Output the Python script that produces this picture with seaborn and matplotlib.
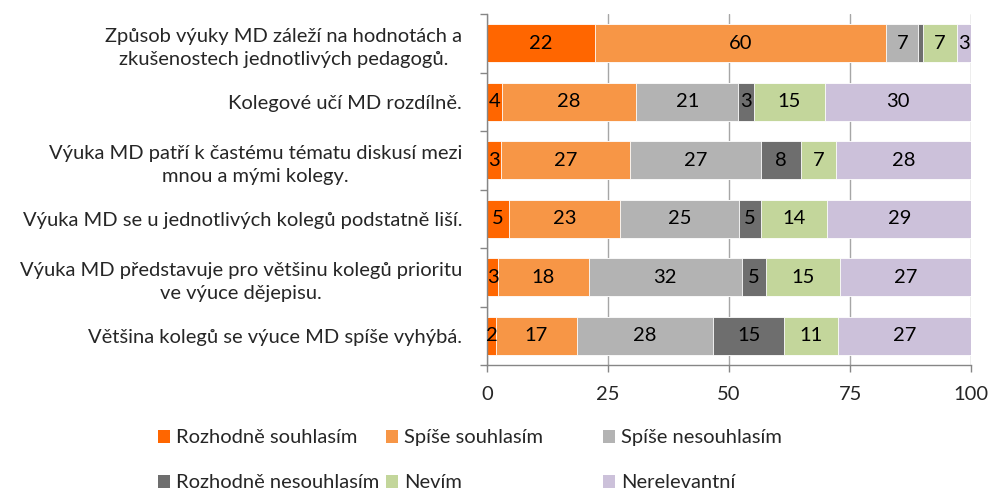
import matplotlib
matplotlib.use("Agg")
import matplotlib.pyplot as plt
import seaborn as sns
import numpy as np
import pandas as pd
from matplotlib.patches import Patch
from matplotlib.ticker import FixedLocator

statements = [
    "Způsob výuky MD záleží na hodnotách a\nzkušenostech jednotlivých pedagogů.",
    "Kolegové učí MD rozdílně.",
    "Výuka MD patří k častému tématu diskusí mezi\nmnou a mými kolegy.",
    "Výuka MD se u jednotlivých kolegů podstatně liší.",
    "Výuka MD představuje pro většinu kolegů prioritu\nve výuce dějepisu.",
    "Většina kolegů se výuce MD spíše vyhýbá.",
]
categories = ["Rozhodně souhlasím", "Spíše souhlasím", "Spíše nesouhlasím",
              "Rozhodně nesouhlasím", "Nevím", "Nerelevantní"]

rozhodne_souhlasim = [22.2, 3.1, 2.8, 4.6, 2.3, 1.9]
spise_souhlasim = [60.3, 27.7, 26.7, 22.8, 18.7, 16.6]
spise_nesouhlasim = [6.6, 21.1, 27.0, 24.6, 31.6, 28.2]
rozhodne_nesouhlasim = [1.0, 3.2, 8.3, 4.5, 5.1, 14.7]
nevim = [6.9, 14.6, 7.3, 13.8, 15.2, 11.1]
nerelevantni = [3.0, 30.3, 27.9, 29.7, 27.2, 27.5]

labels_rozhodne_souhlasim = ["22", "4", "3", "5", "3", "2"]
labels_spise_souhlasim = ["60", "28", "27", "23", "18", "17"]
labels_spise_nesouhlasim = ["7", "21", "27", "25", "32", "28"]
labels_rozhodne_nesouhlasim = ["", "3", "8", "5", "5", "15"]
labels_nevim = ["7", "15", "7", "14", "15", "11"]
labels_nerelevantni = ["3", "30", "28", "29", "27", "27"]

x_ticks = [0, 25, 50, 75, 100]

colors = ["#FF6600", "#F79646", "#B3B3B3", "#6E6E6E", "#C3D69B", "#CCC1DA"]

series = [rozhodne_souhlasim, spise_souhlasim, spise_nesouhlasim,
          rozhodne_nesouhlasim, nevim, nerelevantni]
series_labels = [labels_rozhodne_souhlasim, labels_spise_souhlasim,
                 labels_spise_nesouhlasim, labels_rozhodne_nesouhlasim,
                 labels_nevim, labels_nerelevantni]

sns.set_theme(style="white")
plt.rcParams["font.family"] = ["Lato", "DejaVu Sans"]
FS = 14.5
FS_DATA = 14.5

fig = plt.figure(figsize=(9.9, 4.9), dpi=100)
ax = fig.add_axes([0.492, 0.255, 0.489, 0.716])

vals = np.array(series)
cum = np.cumsum(vals, axis=0)
starts = cum - vals

df = pd.DataFrame({"statement": statements})
for i in range(len(categories) - 1, -1, -1):
    df["cum"] = cum[i]
    sns.barplot(data=df, x="cum", y="statement", orient="h", color=colors[i],
                width=0.65, edgecolor="white", linewidth=0.6, saturation=1,
                ax=ax, zorder=2)

for i in range(len(categories)):
    for j in range(len(statements)):
        lab = series_labels[i][j]
        if lab:
            ax.text(starts[i, j] + vals[i, j] / 2, j, lab, ha="center",
                    va="center", fontsize=FS_DATA, color="black", zorder=5)

ax.set_xlim(0, 100)
ax.set_ylim(len(statements) - 0.5, -0.5)
ax.set_xticks(x_ticks)
ax.set_xticklabels([str(t) for t in x_ticks], fontsize=FS)
ax.set_xlabel("")
ax.set_ylabel("")
ax.set_yticks(range(len(statements)))
ax.set_yticklabels(statements, fontsize=FS, multialignment="center",
                   linespacing=1.45)
ax.yaxis.set_minor_locator(FixedLocator(np.arange(-0.5, len(statements), 1.0)))
ax.tick_params(axis="y", which="major", length=0, pad=18)
ax.tick_params(axis="y", which="minor", length=5, color="#868686", width=1,
               direction="out", left=True)
ax.tick_params(axis="x", which="major", length=5, color="#868686", width=1,
               direction="out", bottom=True, pad=10)

ax.xaxis.grid(True, color="#A6A6A6", linewidth=1)
ax.yaxis.grid(False)
ax.set_axisbelow(True)
for s in ["top", "right"]:
    ax.spines[s].set_visible(False)
for s in ["left", "bottom"]:
    ax.spines[s].set_color("#868686")
    ax.spines[s].set_linewidth(1)

handles = [Patch(facecolor=c, edgecolor="none") for c in colors]
cols = [(0, 3), (1, 4), (2, 5)]
xs = [158 / 990, 386 / 990, 603 / 990]
for (a, b), x in zip(cols, xs):
    fig.legend([handles[a], handles[b]], [categories[a], categories[b]],
               loc="upper left", bbox_to_anchor=(x, 0.124), frameon=False,
               fontsize=FS, borderpad=0, borderaxespad=0, handlelength=0.6,
               handleheight=0.6, handletextpad=0.3, labelspacing=1.4)

fig.savefig("out.png", dpi=100)
